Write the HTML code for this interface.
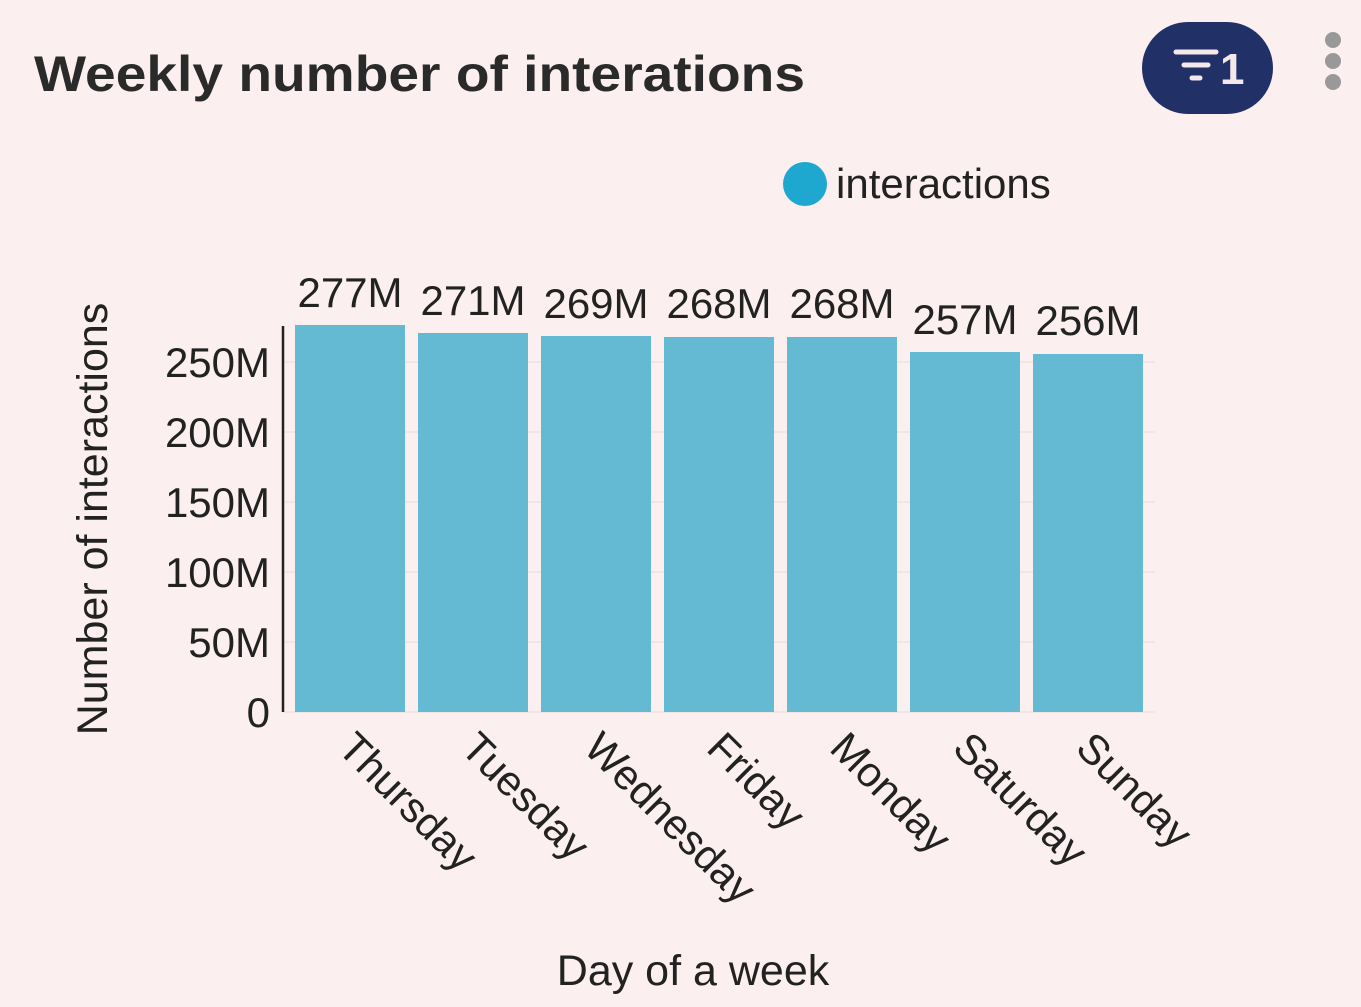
<!DOCTYPE html>
<html><head><meta charset="utf-8"><style>
html,body{margin:0;padding:0;background:#fbf0ef;}
svg{display:block;font-family:"Liberation Sans",sans-serif;}
</style></head><body>
<svg width="1361" height="1007" viewBox="0 0 1361 1007">
<rect width="1361" height="1007" fill="#fbf0ef"/>
<text x="34" y="91" font-size="50" font-weight="bold" fill="#2a2a2a" textLength="771" lengthAdjust="spacingAndGlyphs">Weekly number of interations</text>
<rect x="1142" y="22" width="131" height="92" rx="46" fill="#223068"/>
<g stroke="#f4e9ea" stroke-width="5" stroke-linecap="round">
<line x1="1176" y1="52" x2="1216" y2="52"/><line x1="1184" y1="65" x2="1208" y2="65"/><line x1="1192" y1="78" x2="1200" y2="78"/></g>
<text x="1220" y="84" font-size="44" font-weight="bold" fill="#f4e9ea">1</text>
<g fill="#999"><circle cx="1333" cy="40" r="8"/><circle cx="1333" cy="61" r="8"/><circle cx="1333" cy="82" r="8"/></g>
<circle cx="805" cy="184" r="22" fill="#1fa8cf"/>
<text x="836" y="198" font-size="42" fill="#222">interactions</text>
<g stroke="#ece3e3" stroke-width="1.5">
<line x1="283" y1="362" x2="1155" y2="362"/><line x1="283" y1="432" x2="1155" y2="432"/><line x1="283" y1="502" x2="1155" y2="502"/><line x1="283" y1="572" x2="1155" y2="572"/><line x1="283" y1="642" x2="1155" y2="642"/><line x1="283" y1="712" x2="1155" y2="712"/></g>
<g fill="#64b9d3">
<rect x="295" y="325" width="110" height="387"/>
<rect x="418" y="333" width="110" height="379"/>
<rect x="541" y="336" width="110" height="376"/>
<rect x="664" y="337" width="110" height="375"/>
<rect x="787" y="337" width="110" height="375"/>
<rect x="910" y="352" width="110" height="360"/>
<rect x="1033" y="354" width="110" height="358"/>
</g>
<line x1="283" y1="326" x2="283" y2="712" stroke="#222" stroke-width="2.5"/>
<g font-size="42" fill="#222" text-anchor="end">
<text x="270" y="377">250M</text><text x="270" y="447">200M</text><text x="270" y="517">150M</text><text x="270" y="587">100M</text><text x="270" y="657">50M</text><text x="270" y="727">0</text></g>
<text transform="translate(107,519) rotate(-90)" font-size="43" fill="#222" text-anchor="middle">Number of interactions</text>
<g font-size="42" fill="#222" text-anchor="middle">
<text x="350" y="307">277M</text><text x="473" y="315">271M</text><text x="596" y="318">269M</text><text x="719" y="318">268M</text><text x="842" y="318">268M</text><text x="965" y="334">257M</text><text x="1088" y="335">256M</text></g>
<g font-size="42" fill="#222">
<text transform="translate(336,750) rotate(45)">Thursday</text>
<text transform="translate(459,750) rotate(45)">Tuesday</text>
<text transform="translate(582,750) rotate(45)">Wednesday</text>
<text transform="translate(705,750) rotate(45)">Friday</text>
<text transform="translate(828,750) rotate(45)">Monday</text>
<text transform="translate(951,750) rotate(45)">Saturday</text>
<text transform="translate(1074,750) rotate(45)">Sunday</text></g>
<text x="693" y="985" font-size="43" fill="#222" text-anchor="middle">Day of a week</text>
</svg>
</body></html>
